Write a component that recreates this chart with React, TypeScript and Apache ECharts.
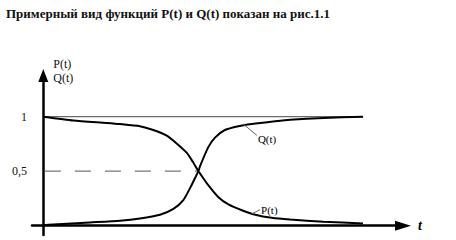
import React, { useEffect, useRef } from "react";
import * as echarts from "echarts";

const titleText = "Примерный вид функций P(t) и Q(t) показан на рис.1.1";
const yTickValues = [0.5, 1];
const yTickLabels = ["0,5", "1"];
const axisNameY = "P(t)\nQ(t)";
const axisNameX = "t";

const pData: [number, number][] = [
  [0, 1.0], [0.94, 0.965], [1.98, 0.943], [2.4, 0.933], [3.02, 0.913], [3.44, 0.878],
  [3.86, 0.826], [4.17, 0.755], [4.49, 0.668], [4.69, 0.58], [4.85, 0.5], [4.9, 0.48],
  [5.16, 0.372], [5.47, 0.264], [5.79, 0.195], [6.21, 0.142], [6.63, 0.101],
  [7.14, 0.073], [7.72, 0.057], [8.76, 0.037], [10, 0.02],
];
const qData: [number, number][] = [
  [0, 0.005], [0.31, 0.011], [1.46, 0.03], [2.4, 0.046], [3.02, 0.066], [3.65, 0.101],
  [4.07, 0.155], [4.38, 0.236], [4.59, 0.345], [4.75, 0.44], [4.85, 0.5], [4.9, 0.545],
  [5.16, 0.721], [5.37, 0.808], [5.68, 0.878], [6.1, 0.913], [6.52, 0.933],
  [7.25, 0.958], [7.72, 0.972], [8.76, 0.988], [10, 1.0],
];
const qLeader: [number, number][] = [[6.25, 0.934], [6.68, 0.829]];
const pLeader: [number, number][] = [[6.53, 0.11], [6.78, 0.148]];
const levelLine: [number, number][] = [[0, 1], [10, 1]];
const halfLine: [number, number][] = [[0.05, 0.5], [4.8, 0.5]];

const serif = "Liberation Serif, Times New Roman, serif";

export default function App() {
  const ref = useRef<HTMLDivElement>(null);
  useEffect(() => {
    if (!ref.current) return;
    const chart = echarts.init(ref.current, null, { renderer: "svg" });
    const labelStyle = {
      fontFamily: serif, fontSize: 11, color: "#000",
      textBorderWidth: 0, textShadowBlur: 0,
    };
    chart.setOption({
      animation: false,
      backgroundColor: "#fff",
      title: {
        text: titleText,
        left: 1,
        top: 2,
        textStyle: { fontFamily: serif, fontSize: 13, fontWeight: "bold", color: "#111" },
      },
      grid: { left: 32, right: 53, top: 75.5, bottom: 5, containLabel: false },
      xAxis: {
        type: "value",
        min: -0.353,
        max: 11.25,
        splitLine: { show: false },
        axisTick: { show: false },
        axisLabel: { show: false },
        axisLine: {
          onZero: true,
          symbol: ["none", "triangle"],
          symbolSize: [10, 16],
          lineStyle: { color: "#000", width: 2.5 },
        },
        name: axisNameX,
        nameLocation: "end",
        nameGap: 15,
        nameTextStyle: {
          fontFamily: serif, fontSize: 14, fontWeight: "bold", fontStyle: "italic",
          color: "#000", padding: [12, 0, 0, 0],
        },
      },
      yAxis: {
        type: "value",
        min: -0.085,
        max: 1.378,
        splitLine: { show: false },
        axisTick: { show: false },
        axisLabel: {
          show: true,
          customValues: yTickValues,
          margin: 5,
          fontFamily: serif,
          fontSize: 12,
          color: "#111",
          formatter: (v: number) => {
            const i = yTickValues.findIndex((t) => Math.abs(t - v) < 1e-6);
            return i >= 0 ? yTickLabels[i] : "";
          },
        },
        axisLine: {
          onZero: true,
          symbol: ["none", "triangle"],
          symbolSize: [10, 13],
          lineStyle: { color: "#000", width: 2.5 },
        },
        name: axisNameY,
        nameLocation: "end",
        nameGap: 5,
        nameTextStyle: {
          fontFamily: serif, fontSize: 12, color: "#111", align: "left",
          verticalAlign: "middle", lineHeight: 14, padding: [0, 0, 0, 10],
        },
      },
      series: [
        {
          type: "line", data: levelLine, symbol: "none", silent: true,
          lineStyle: { color: "#444", width: 1 },
        },
        {
          type: "line", data: halfLine, symbol: "none", silent: true,
          lineStyle: { color: "#777", width: 1.2, type: [16, 14] },
        },
        {
          type: "line", data: pData, symbol: "none", smooth: 0.2,
          lineStyle: { color: "#000", width: 2 },
        },
        {
          type: "line", data: qData, symbol: "none", smooth: 0.2,
          lineStyle: { color: "#000", width: 2 },
        },
        {
          type: "line", data: qLeader, symbol: "none", silent: true, color: "#000",
          lineStyle: { color: "#666", width: 1 },
          endLabel: { show: true, formatter: "Q(t)", distance: 1, offset: [0, 4], ...labelStyle },
        },
        {
          type: "line", data: pLeader, symbol: "none", silent: true, color: "#000",
          lineStyle: { color: "#666", width: 1 },
          endLabel: { show: true, formatter: "P(t)", distance: 1, ...labelStyle },
        },
      ],
    });
    return () => chart.dispose();
  }, []);
  return (
    <div
      ref={ref}
      style={{ position: "fixed", left: 0, top: 0, width: 456, height: 240, background: "#fff" }}
    />
  );
}
